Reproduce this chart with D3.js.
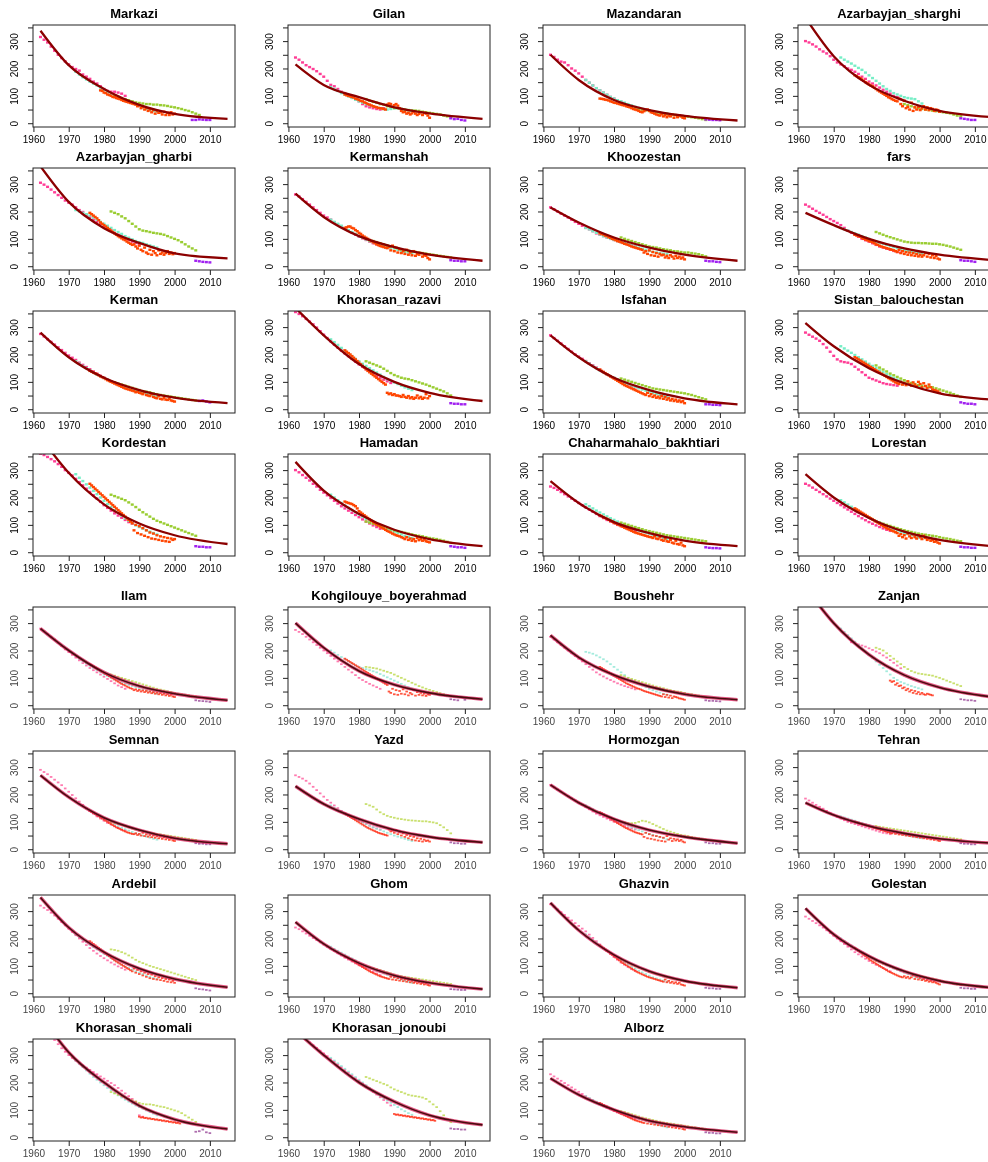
<!DOCTYPE html>
<html>
<head>
<meta charset="utf-8">
<script src="https://cdn.jsdelivr.net/npm/d3@7"></script>
<style>
  body { margin: 0; background: #fff; }
  svg { display: block; font-family: 'Liberation Sans', Arial, sans-serif; }
  .title { font-weight: bold; font-size: 13px; text-anchor: middle; }
  .tick text { font-size: 10px; }
</style>
</head>
<body>
<svg></svg>
<script>
const width = 988;
const height = 1162;

const regions = ['Markazi','Gilan','Mazandaran','Azarbayjan_sharghi',
  'Azarbayjan_gharbi','Kermanshah','Khoozestan','fars',
  'Kerman','Khorasan_razavi','Isfahan','Sistan_balouchestan',
  'Kordestan','Hamadan','Chaharmahalo_bakhtiari','Lorestan',
  'Ilam','Kohgilouye_boyerahmad','Boushehr','Zanjan',
  'Semnan','Yazd','Hormozgan','Tehran',
  'Ardebil','Ghom','Ghazvin','Golestan',
  'Khorasan_shomali','Khorasan_jonoubi','Alborz'];

const xTicks = [1960, 1970, 1980, 1990, 2000, 2010];
const yTicks = [0, 50, 100, 150, 200, 250, 300, 350];
const yLabels = [0, 100, 200, 300];

// fitted curve, read at these years
const curveYears = [1962, 1970, 1980, 1990, 2000, 2015];
const curveValues = [
  [338,212,125,67,34,16],[215,140,95,58,36,16],[250,158,85,48,27,10],[385,245,140,82,45,22],
  [365,235,139,85,47,29],[265,180,110,70,42,20],[215,160,105,68,42,20],[195,150,100,65,42,22],
  [280,190,115,70,42,22],[370,270,165,100,60,30],[270,190,115,70,40,18],[315,230,150,95,58,35],
  [420,290,175,105,62,30],[330,225,140,82,48,22],[260,180,110,70,42,22],[285,200,125,75,45,22],
  [280,200,120,70,42,18],[300,210,125,75,45,22],[255,175,110,68,40,20],[430,300,185,110,65,30],
  [270,190,115,70,40,20],[230,165,110,70,45,25],[235,170,110,70,45,22],[170,125,85,58,38,22],
  [350,240,150,90,52,22],[260,180,110,65,38,15],[330,230,140,80,45,20],[310,215,135,80,45,20],
  [445,310,200,115,65,30],[390,300,200,130,80,45],[215,155,100,60,38,18]
];

// dot series: first entry is the start year, then one value per year
const pinkSeries = [
  [1962,315,305,295,280,265,250,238,226,215,205,198,192,178,170,162,152,145,135,125,118,115,115,112,108,100],
  [1962,240,232,222,212,205,198,190,180,170,155,140,135,125,115,110,100,95,88,80,70,62,58,55,52,50,55],
  [1962,250,242,232,225,222,212,200,192,182,170,158,148,138,128,120,112,104,96,90,84,78],
  [1962,300,295,288,280,270,262,255,245,232,222,215,208,200,195,188,180,170,162,152,145,138,130,122,115,108,100,95,88,82],
  [1962,305,298,290,280,270,260,250,240,232,225,215,205,198,188,180,170,162,155,145,138,130,122,115,108,102,96,90,85,80],
  [1962,262,255,245,235,225,215,205,195,185,178,170,160,152,145,138,130,122,115,108,102,96,90,84,80,75],
  [1962,215,208,200,192,185,178,170,162,155,148,140,135,128,120,115,110,105,100,96,92,88,84,80,76,72],
  [1962,225,218,210,202,195,188,180,172,165,158,150,140,130,122,115,108,100,95,90,84,78,72,68,64,60,56,52,50],
  [1962,275,266,256,246,236,226,216,206,196,188,180,170,162,154,146,138,130,122,115,108,102,96,90,85,80],
  [1962,355,348,340,330,320,310,298,285,272,260,248,236,225,214,204,194,184,174,164,155,146,138,130,122,115,108,102,96],
  [1962,270,260,250,240,230,220,210,200,192,184,176,168,160,152,144,136,128,120,114,108,102,96,90,85,80],
  [1962,280,272,265,258,250,238,225,210,195,182,175,172,170,165,155,145,135,125,115,110,105,100,95,92,90,88,86],
  [1962,360,355,348,340,332,322,312,300,290,280,268,256,244,232,220,208,196,184,172,162,152,142,134,126,118,110,104],
  [1962,300,292,282,272,262,250,240,228,218,208,198,188,178,168,160,152,144,136,128,120,112,105,98,92,86],
  [1962,240,235,228,220,212,204,196,188,180,172,164,156,148,140,132,125,118,112,106,100,95,90,86,82,78],
  [1962,250,244,236,228,220,212,204,196,188,180,172,164,156,148,140,132,124,117,110,104,98,92,87,82,78],
  [1962,280,270,260,250,240,228,216,204,194,184,174,164,154,145,136,128,120,112,104,96,88,80,72,66,60],
  [1962,275,268,260,250,240,230,220,210,200,190,180,170,160,150,140,130,120,110,100,92,85,78,72,66,60],
  [1962,250,240,230,220,210,200,190,180,170,160,150,140,130,120,112,105,98,92,86,80,75,70,66,62,58],
  [1975,230,226,222,218,214,208,202,196,190,182,174,165,155,145,135],
  [1962,290,282,274,264,254,244,234,222,210,198,186,174,162,150,140,130,120,112,104,96,90,84,78,72,68],
  [1962,270,264,258,250,240,228,216,204,192,180,170,160,150,140,132,124,116,110,104,98,92,86,80,76,72],
  [1962,235,226,218,210,202,194,186,178,170,162,154,146,138,130,124,118,112,106,100,95,90,85,80,76,72],
  [1962,185,178,170,162,155,148,140,132,125,118,112,106,100,96,92,88,84,80,76,72,68,64,60,58,55],
  [1962,320,312,304,294,284,272,260,248,236,224,212,200,188,176,165,155,145,136,128,120,112,105,98,92,86],
  [1962,240,234,226,218,210,202,194,186,178,170,162,154,146,138,130,123,116,109,102,96,90,84,78,72,66],
  [1962,325,316,306,296,286,276,266,256,246,236,226,214,202,190,178,166,154,143,132,122,112,104,96,88,82],
  [1962,280,272,264,256,248,240,230,220,210,200,190,180,170,160,150,142,134,126,118,110,104,98,92,86,80],
  [1962,400,390,380,370,355,340,325,312,300,290,280,270,262,254,246,238,230,222,214,206,198,190,180,170,160,150,140,130,80,75],
  [1962,380,372,364,355,346,336,326,316,306,296,286,276,266,256,246,236,226,216,206,196,186,176,166,156,146,136,126,116],
  [1962,230,222,214,206,198,190,182,174,166,158,150,142,135,128,121,114,108,102,96,90,85,80,75,70,66]
];

const cyanSeries = [
  [1972,188,178,168,160,152,145,138,130,122,115,108,102,96,90,85,80,75,70,65,58,52,48,45,42],
  [1972,132,125,118,110,104,98,92,86,80,75,70,66,62,58,55,52,50,52,54,55,52,50,48,45],
  [1972,158,148,138,128,120,112,104,96,90,84,80,75,70,65,60,56,52,48,45,42,40,38,36,35],
  [1972,240,232,225,218,210,202,195,185,175,165,155,145,135,125,118,110,105,100,95,92,90,88,80,72],
  [1972,205,200,195,190,185,178,170,162,155,148,140,132,125,118,110,104,98,92,88,85,80,76,72,68],
  [1972,170,162,155,148,140,132,125,118,110,104,98,92,88,84,80,76,72,68,65,60,56,52,50,48],
  [1972,140,135,128,122,116,110,105,100,96,92,88,84,80,76,72,68,64,60,56,52,50,48,46,44],
  [1972,140,135,130,125,120,115,110,105,100,95,90,86,82,78,74,70,66,62,58,55,52,50,48,46],
  [1972,175,166,158,150,142,134,126,120,114,108,102,96,90,85,80,76,72,68,64,60,56,52,49,46],
  [1972,255,245,235,224,214,204,194,184,175,166,158,150,142,134,126,118,110,104,98,92,86,80,75,70],
  [1972,175,166,158,150,142,135,128,121,115,109,103,97,92,87,82,77,72,68,64,60,56,52,48,44],
  [1972,230,222,214,206,198,190,182,174,166,158,150,142,135,128,121,114,108,102,98,94,90,86,82,78],
  [1972,285,272,260,248,236,224,212,200,188,176,165,154,144,134,124,115,106,98,92,86,80,75,70,65],
  [1972,210,200,190,180,171,162,154,146,138,130,122,115,108,102,96,90,85,80,75,70,65,60,56,52],
  [1972,175,168,160,152,145,138,131,124,118,112,106,100,95,90,85,80,76,72,68,64,60,56,52,48],
  [1972,190,182,174,166,158,150,142,135,128,121,114,108,102,96,90,85,80,75,70,66,62,58,54,50],
  [1972,180,170,160,152,144,136,128,120,112,106,100,94,88,82,78,74,70,66,62,58,54,50,46,42],
  [1972,200,192,184,176,168,160,152,145,140,136,132,128,124,120,114,108,102,96,90,84,78,72,66,60],
  [1972,195,192,188,182,175,168,160,150,140,130,120,110,100,92,85,78,72,66,60,55,50,46,42,38],
  [1972,280,268,256,244,232,220,208,196,184,172,160,148,136,124,112,100,92,85,80,75,70,66,62,58],
  [1972,175,166,158,150,142,134,126,118,110,103,96,90,84,78,73,68,63,58,54,50,46,42,38,35],
  [1972,160,152,145,138,131,124,117,110,104,98,92,86,80,75,70,65,60,55,50,46,42,38,34,30],
  [1972,160,153,146,140,134,128,122,116,110,104,98,92,86,80,75,70,65,60,56,52,48,44,40,36],
  [1972,120,116,112,108,104,100,96,92,88,84,80,76,72,68,65,62,59,56,53,50,47,44,42,40],
  [1972,215,205,195,186,177,168,160,152,144,136,128,120,112,105,98,92,86,80,75,70,65,60,56,52],
  [1972,170,162,155,148,141,134,127,120,113,106,100,94,88,82,77,72,67,62,58,54,50,46,42,38],
  [1972,215,205,195,185,175,165,156,147,138,129,120,112,104,96,89,82,76,70,64,58,54,50,46,42],
  [1972,200,191,182,174,166,158,150,142,135,128,121,114,108,102,96,90,85,80,75,70,65,60,55,50],
  [1972,280,268,256,244,232,220,210,200,190,180,171,162,153,145,137,130,123,116,110,104,98,92,86,80],
  [1972,290,280,270,260,250,240,230,220,210,200,190,180,170,160,150,142,134,126,118,110,102,95,88,82],
  [1972,150,143,136,130,124,118,112,106,100,95,90,85,80,76,72,68,64,60,56,52,48,44,40,36]
];

const greenSeries = [
  [1983,100,96,92,88,84,80,76,74,72,70,70,68,68,66,65,63,60,58,55,52,48,45,40,35,30],
  [1982,88,82,78,75,70,68,62,60,56,55,52,50,48,47,46,45,42,40,38,36,34,32,28,25,22],
  [1982,72,68,65,60,56,52,50,48,45,42,40,38,36,34,32,30,28,26,25,24,22,20,18,15,12],
  [1990,70,66,62,58,55,52,50,48,46,44,42,40,38,36,32,28,25],
  [1982,200,195,190,182,175,165,155,145,135,130,128,125,122,120,118,115,110,105,100,95,88,80,72,65,58],
  [1982,100,95,92,88,84,80,76,72,70,66,62,58,56,54,52,50,48,46,44,42,40,38,36,34,32],
  [1982,105,100,96,92,88,84,80,76,72,70,68,65,62,60,58,55,54,52,50,50,48,46,44,40,36],
  [1982,125,120,115,110,106,102,98,94,90,88,86,85,85,84,84,83,82,82,80,78,75,72,68,64,60],
  [1982,102,98,94,90,86,82,78,74,70,66,64,62,58,55,52,50,48,46,44,42,40,38,36,34,32],
  [1982,175,170,165,160,155,148,140,132,125,120,115,112,110,106,102,98,94,90,85,80,75,70,65,58,50],
  [1982,112,108,104,100,96,92,88,84,80,76,74,72,70,68,66,64,62,60,58,55,52,48,44,40,36],
  [1982,160,152,145,138,130,124,118,112,106,100,96,92,88,86,84,82,80,76,72,68,64,60,55,50,45],
  [1982,210,205,200,195,190,182,174,165,155,146,138,130,122,115,110,105,100,95,90,85,80,75,70,65,60],
  [1982,112,108,104,100,96,92,88,84,80,77,74,71,68,65,62,60,58,55,52,50,48,45,42,38,34],
  [1982,108,104,100,96,92,88,84,80,77,74,71,68,65,62,60,58,56,54,52,50,48,46,44,42,40],
  [1982,112,108,104,100,96,92,88,84,80,77,74,71,68,66,64,62,60,58,55,52,50,48,45,42,40],
  [1982,112,108,104,100,96,92,88,84,80,76,72,68,64,60,57,54,51,48,45,42,40,38,36,34,32],
  [1982,140,138,136,134,130,126,122,118,112,106,100,94,88,82,76,70,65,60,56,52,48,44,40,36,32],
  [1982,110,105,100,96,92,88,84,80,76,72,68,65,62,58,55,52,50,48,45,42,40,38,35,32,30],
  [1982,210,205,200,190,180,170,160,150,140,132,125,120,116,114,112,110,108,104,100,95,90,85,80,75,70],
  [1982,100,96,92,88,84,80,76,72,68,65,62,60,58,56,54,52,50,48,46,44,42,40,38,36,34],
  [1982,165,160,155,145,135,128,122,118,115,112,110,108,106,105,104,103,102,102,100,98,95,88,80,70,58],
  [1982,100,98,96,95,96,100,104,102,98,92,86,80,74,68,64,60,56,52,50,48,45,42,40,38,36],
  [1982,85,82,80,78,76,74,72,70,68,66,64,62,60,58,56,54,52,50,48,46,44,42,40,38,36],
  [1982,160,158,155,150,145,138,130,122,115,110,105,100,96,92,88,84,80,76,72,68,64,60,56,52,48],
  [1982,100,96,92,88,84,80,76,72,68,64,62,60,58,56,54,52,50,48,46,44,42,40,38,36,34],
  [1982,122,116,110,104,98,93,88,83,78,74,70,66,62,58,55,52,49,46,44,42,40,38,36,34,32],
  [1982,118,113,108,103,98,93,88,84,80,76,72,68,65,62,59,56,53,50,47,44,41,38,35,32,30],
  [1982,165,160,155,150,145,140,135,130,125,122,120,120,118,115,112,110,106,102,98,94,88,80,72,64,56],
  [1982,220,215,210,205,200,195,190,182,175,170,165,160,155,152,150,148,145,140,130,120,110,95,80,65,55],
  [1982,95,92,88,84,80,76,72,69,66,63,60,57,54,52,50,48,46,44,42,40,38,36,34,32,30]
];

// survey points: start year, then one value per half year
const orangeSeries = [
  [1979,120,118,112,110,105,103,100,96,95,92,90,88,85,82,80,78,76,74,72,70,68,62,65,55,60,50,55,45,50,40,48,35,45,38,40,32,42,30,38,30,40,32,35],
  [1976,105,102,100,98,96,94,90,88,85,82,80,76,74,70,68,65,62,60,58,56,55,54,52,50,68,72,70,60,66,70,64,55,45,40,42,35,38,32,36,42,35,30,34,40,30,38,35,28,20],
  [1976,90,89,88,86,85,83,80,78,75,74,72,70,68,66,65,62,60,58,55,52,50,48,45,42,40,44,48,50,45,40,38,35,32,30,28,33,25,30,22,28,25,32,20,30,22,28,25,20,18],
  [1976,175,172,168,165,160,155,150,146,142,138,135,130,125,120,116,112,108,104,100,95,92,88,85,82,80,90,70,62,82,55,60,50,75,45,58,50,60,48,55,62,50,58,48,55,52,45,50,48,42],
  [1976,195,190,185,180,175,168,160,155,150,145,140,135,130,125,120,115,110,106,102,98,95,90,86,82,78,80,72,65,75,60,55,68,50,45,60,42,55,48,40,58,45,50,42,48,55,45,50,44,48],
  [1976,140,142,145,145,140,138,132,128,122,118,112,108,104,100,96,92,88,84,80,77,74,72,70,68,66,70,58,75,55,68,50,62,48,55,45,60,42,50,40,55,38,45,42,48,35,40,38,30,25],
  [1976,120,118,116,112,110,106,104,100,98,95,92,90,88,85,82,80,78,75,72,70,68,66,64,62,60,50,55,45,58,40,52,38,48,35,45,40,42,32,38,30,40,35,28,38,30,35,28,32,25],
  [1976,115,112,110,108,104,100,98,95,92,90,88,84,80,78,75,72,70,68,66,64,62,60,58,55,52,60,48,55,45,52,42,50,40,48,38,45,36,42,35,40,48,35,45,32,40,30,38,28,25],
  [1976,140,137,134,131,128,124,120,117,114,110,106,103,100,97,94,91,88,85,82,79,76,74,72,70,68,66,62,64,60,58,55,62,52,50,48,55,45,42,40,48,38,36,42,35,34,38,32,30,28],
  [1976,215,210,205,200,194,188,182,176,170,164,158,152,146,140,135,130,125,120,115,110,105,100,95,90,60,55,58,52,55,50,50,48,45,52,45,42,48,40,44,38,42,50,40,45,38,42,55,40,48],
  [1976,145,140,136,132,128,124,120,116,112,108,104,100,96,92,88,85,82,79,76,73,70,67,64,61,58,55,52,60,48,55,45,50,42,46,40,48,38,44,35,40,32,38,30,35,28,32,26,30,22],
  [1976,190,186,182,178,174,170,166,162,158,154,150,146,142,138,134,130,126,122,118,114,110,106,102,98,95,92,100,90,96,88,102,92,86,98,90,84,100,92,80,95,85,78,90,80,72,70,68,65,60],
  [1976,250,244,238,232,226,220,214,208,202,196,190,184,178,172,166,160,154,148,142,136,130,124,118,112,106,80,100,70,95,65,88,60,80,55,72,50,68,48,62,45,58,42,55,40,52,38,50,45,48],
  [1976,185,182,180,178,176,172,168,160,150,145,140,135,130,125,120,115,110,106,102,98,94,90,86,82,78,75,72,68,65,62,60,58,55,52,48,55,45,50,42,48,40,52,44,48,42,46,40,38,36],
  [1976,135,132,128,125,122,118,115,112,108,105,102,99,96,93,90,87,84,81,78,75,72,70,68,66,64,62,60,58,56,55,52,58,50,48,55,45,42,50,40,38,45,35,32,42,30,28,35,25,22],
  [1976,160,156,152,148,144,140,136,132,128,124,120,116,112,108,104,100,96,92,88,85,82,79,76,73,70,60,66,55,62,50,68,58,52,65,55,50,62,55,48,60,52,45,50,42,45,38,40,35,32],
  [1976,150,146,142,138,134,130,126,122,118,114,110,106,102,98,94,90,86,82,78,75,72,68,65,62,60,55,58,52,56,50,54,48,52,46,50,44,48,42,46,40,44,38,42,36,40,34,38,32,30],
  [1976,170,166,162,158,154,150,146,142,138,134,130,126,122,118,114,110,106,102,98,94,90,86,82,78,74,50,45,60,40,55,38,52,42,58,40,50,36,45,40,55,35,48,38,45,36,42,34,40,38],
  [1976,140,136,132,128,124,120,116,112,108,104,100,96,92,88,84,80,77,74,71,68,65,62,60,58,55,52,50,48,46,44,42,40,38,36,34,32,40,30,38,28,35,26,32,30,28,25,24,22,20],
  [1986,90,85,88,75,80,70,72,62,65,55,60,50,55,45,52,42,48,40,45,40,38,42,40,38,36],
  [1976,140,136,132,128,124,120,116,112,108,104,100,96,92,88,84,80,77,74,71,68,65,62,60,58,56,55,58,52,56,50,60,48,54,46,52,44,50,42,48,40,46,38,44,36,42,34,40,32,30],
  [1976,130,126,122,118,114,110,106,102,98,94,90,86,82,78,75,72,69,66,63,60,58,56,54,52,50,72,65,68,60,70,55,62,50,58,45,52,40,48,35,45,32,40,30,38,28,35,30,32,28],
  [1976,135,132,128,124,120,116,112,108,104,100,96,92,88,84,80,77,74,71,68,65,62,60,58,56,54,45,60,40,55,38,50,35,48,32,45,30,42,28,48,35,40,30,38,32,36,30,34,28,25],
  [1976,100,98,96,94,92,90,88,86,84,82,80,78,76,74,72,70,68,66,64,62,60,58,62,56,60,54,58,52,56,50,54,48,52,46,50,44,48,42,46,40,44,38,42,36,40,34,38,32,30],
  [1976,190,185,180,175,170,165,160,155,150,145,140,135,130,125,120,116,112,108,104,100,96,92,88,84,80,90,75,85,70,80,65,75,60,70,55,68,52,62,50,58,48,55,45,52,42,50,40,45,38],
  [1976,135,132,128,124,120,116,112,108,104,100,96,92,88,84,80,77,74,71,68,65,62,60,58,56,54,52,60,50,58,48,55,46,52,44,50,42,48,40,45,38,42,36,40,34,38,32,35,30,28],
  [1976,175,170,165,160,155,150,145,140,135,130,125,120,115,110,106,102,98,94,90,86,82,78,75,72,69,66,63,60,58,56,54,52,50,48,46,44,42,50,40,45,38,42,36,40,34,38,32,30,28],
  [1976,165,160,155,150,145,140,135,130,125,120,116,112,108,104,100,96,92,88,84,80,77,74,71,68,65,62,60,58,62,56,60,54,58,65,52,60,50,56,48,52,45,48,42,45,40,42,38,35,32],
  [1990,75,72,73,70,71,68,69,66,67,64,65,62,63,60,61,58,59,56,57,54,55,52,53,50],
  [1990,85,82,83,80,81,78,79,76,77,74,75,72,73,70,71,68,69,66,67,64,65,62,63,60],
  [1976,125,122,118,115,112,108,105,102,98,95,92,89,86,83,80,77,74,71,68,65,62,60,58,56,54,52,62,50,60,48,58,46,55,44,52,42,50,40,48,38,45,36,42,34,40,32,38,30,28]
];

const purpleSeries = [
  [2005,12,12,14,13,12,12],[2006,18,15,16,12,10],[2006,14,13,12,12,11],[2006,18,16,14,12,12],
  [2006,20,18,16,15,14],[2006,22,20,20,18,18],[2006,20,18,18,16,15],[2006,22,20,20,18,16],
  [2007,30,32,28,25],[2006,22,20,20,18,18],[2006,18,18,16,16,15],[2006,25,22,20,20,18],
  [2006,22,20,20,18,18],[2006,22,20,18,18,16],[2006,18,16,15,15,14],[2006,20,18,18,16,16],
  [2006,18,16,15,14,12],[2006,22,20,18,30,20],[2006,18,16,16,15,14],[2006,22,20,18,18,16],
  [2006,22,20,20,18,18],[2006,25,22,22,20,20],[2006,25,22,22,20,20],[2006,22,20,20,18,18],
  [2006,18,15,14,12,10],[2006,15,14,13,12,12],[2006,20,18,18,16,16],[2006,20,18,18,16,16],
  [2006,20,22,28,18,15],[2006,32,30,30,28,28],[2006,18,16,16,14,14]
];

const pw = 202, ph = 102;
const colX = c => 33 + 255 * c;
const rowY = r => r < 4 ? 25 + 143 * r : 607 + 144 * (r - 4);

const topStyle = {pink:'#ff3e96', cyan:'#76eec6', green:'#9acd32', orange:'#ff4500', purple:'#a020f0',
  line:'#8b0000', halo:null, text:'#000', blur:0.3, dotW:3, dotH:2.4, dotOp:1};
const lowStyle = {pink:'#ff5a9c', cyan:'#8de6d4', green:'#bcd84a', orange:'#ff2a12', purple:'#9a4a9a',
  line:'#4a0810', halo:'#d8205a', text:'#444', blur:0.55, dotW:2.6, dotH:1.8, dotOp:0.8};

const x = d3.scaleLinear().domain([1959.88, 2017.12]).range([0, pw]);
const y = d3.scaleLinear().domain([-13.8, 358.8]).range([ph, 0]);

const svg = d3.select('svg')
    .attr('width', width)
    .attr('height', height);

const defs = svg.append('defs');
defs.append('clipPath').attr('id', 'plotClip')
  .append('rect').attr('width', pw).attr('height', ph);
[['blurTop', topStyle.blur], ['blurLow', lowStyle.blur]].forEach(([id, s]) => {
  defs.append('filter').attr('id', id)
    .attr('x', '-10%').attr('y', '-10%').attr('width', '120%').attr('height', '120%')
    .append('feGaussianBlur').attr('stdDeviation', s);
});

const toDots = (series, step) => {
  const [start, ...vals] = series;
  return vals.map((v, k) => ({year: start + k * step, v}));
};

const line = d3.line()
    .x(d => x(d.year))
    .y(d => y(d.v))
    .curve(d3.curveMonotoneX);

regions.forEach((name, i) => {
  const r = Math.floor(i / 4), c = i % 4;
  const st = r < 4 ? topStyle : lowStyle;
  const panel = svg.append('g')
      .attr('transform', `translate(${colX(c)},${rowY(r)})`)
      .attr('filter', r < 4 ? 'url(#blurTop)' : 'url(#blurLow)');

  panel.append('text')
      .attr('class', 'title')
      .attr('x', pw / 2)
      .attr('y', -7)
      .attr('fill', '#000')
      .text(name);

  const plot = panel.append('g').attr('clip-path', 'url(#plotClip)');

  const layers = [
    [pinkSeries[i], 1, st.pink],
    [cyanSeries[i], 1, st.cyan],
    [greenSeries[i], 1, st.green],
    [orangeSeries[i], 0.5, st.orange],
    [purpleSeries[i], 1, st.purple]
  ];
  layers.forEach(([series, step, color]) => {
    plot.selectAll(null).data(toDots(series, step))
      .enter().append('rect')
        .attr('x', d => x(d.year) - st.dotW / 2)
        .attr('y', d => y(d.v) - st.dotH / 2)
        .attr('width', st.dotW)
        .attr('height', st.dotH)
        .attr('fill', color)
        .attr('opacity', st.dotOp);
  });

  const curveData = curveYears.map((yr, k) => ({year: yr, v: curveValues[i][k]}));
  if (st.halo) {
    plot.append('path').datum(curveData)
      .attr('d', line).attr('fill', 'none')
      .attr('stroke', st.halo).attr('stroke-width', 3.4).attr('opacity', 0.75);
  }
  plot.append('path').datum(curveData)
    .attr('d', line).attr('fill', 'none')
    .attr('stroke', st.line).attr('stroke-width', st.halo ? 1.6 : 2.3);

  // box
  panel.append('rect')
      .attr('width', pw).attr('height', ph)
      .attr('fill', 'none').attr('stroke', '#222').attr('stroke-width', 1);

  const xAxis = panel.append('g')
      .attr('transform', `translate(0,${ph})`)
      .call(d3.axisBottom(x).tickValues(xTicks).tickFormat(d3.format('d'))
        .tickSize(5).tickSizeOuter(0).tickPadding(4));
  const yAxis = panel.append('g')
      .call(d3.axisLeft(y).tickValues(yTicks)
        .tickFormat(d => yLabels.includes(d) ? d : '')
        .tickSize(5).tickSizeOuter(0));
  [xAxis, yAxis].forEach(a => {
    a.select('.domain').remove();
    a.selectAll('line').attr('stroke', '#222');
    a.selectAll('text').attr('fill', st.text).style('font-family', "'Liberation Sans', Arial, sans-serif");
  });
  yAxis.selectAll('text')
      .attr('x', null).attr('dy', null)
      .attr('text-anchor', 'middle')
      .attr('transform', 'translate(-15,0) rotate(-90)');
});
</script>
</body>
</html>
